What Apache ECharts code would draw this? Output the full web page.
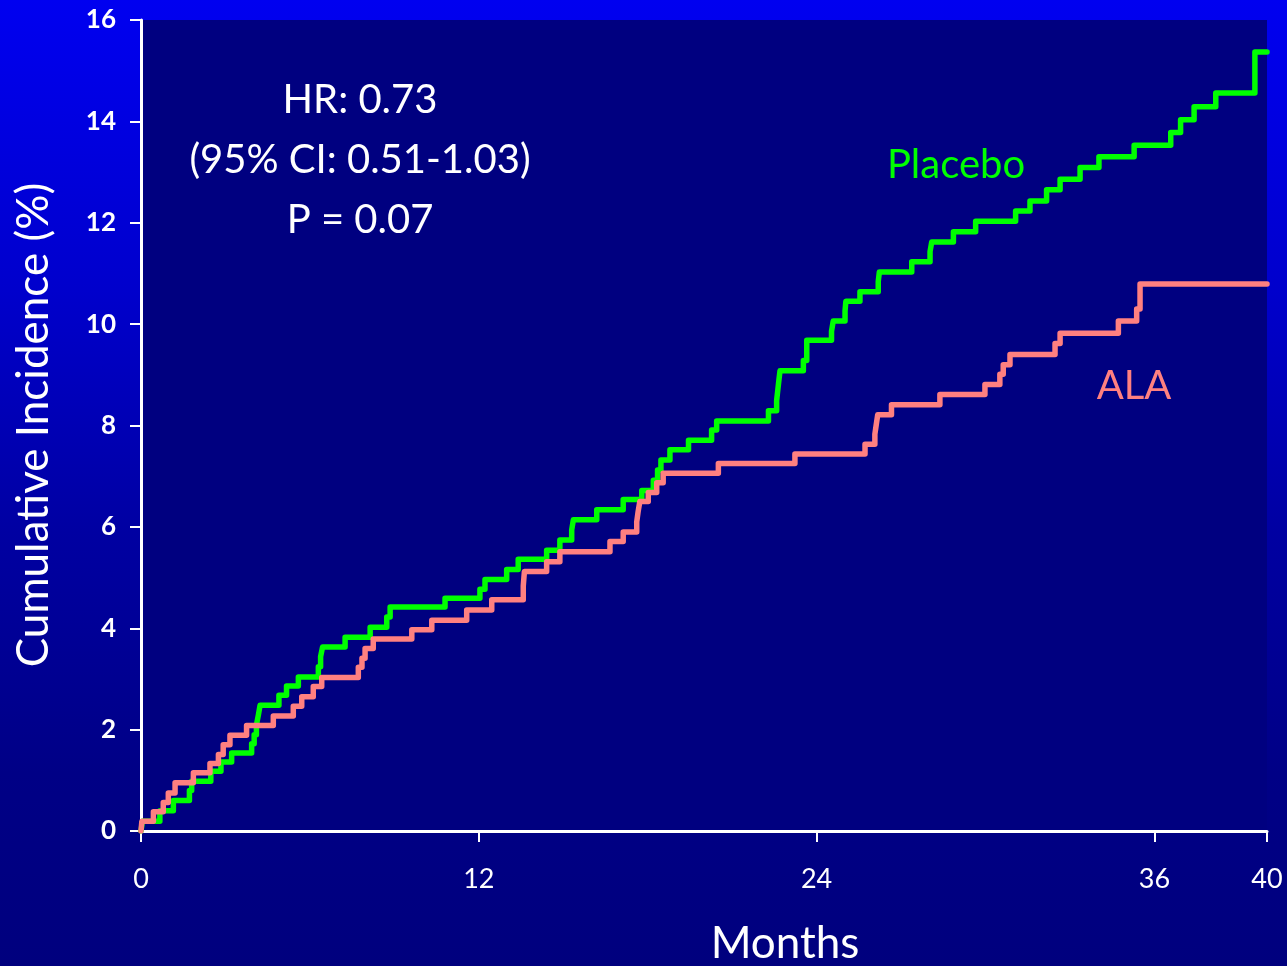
<!DOCTYPE html>
<html>
<head>
<meta charset="utf-8">
<style>
  html, body { margin: 0; padding: 0; width: 1287px; height: 966px; overflow: hidden; background: #000080; }
  #chart { width: 1287px; height: 966px; }
</style>
<script src="https://cdn.jsdelivr.net/npm/echarts@6/dist/echarts.min.js"></script>
</head>
<body>
<div id="chart"></div>
<script>
// Kaplan-Meier style cumulative incidence: event times (months) and the level reached after each event (%)
const placeboTimes = [0.05, 0.67, 1.15, 1.72, 1.80, 2.48, 2.84, 3.22, 3.93, 4.02, 4.10, 4.17, 4.23, 4.90, 5.17, 5.59,
  6.30, 6.38, 6.45, 7.25, 8.14, 8.73, 8.85, 10.80, 12.04, 12.22, 12.99, 13.40, 14.41, 14.88, 15.30, 15.36, 16.19,
  17.13, 17.79, 18.20, 18.35, 18.47, 18.79, 19.45, 20.27, 20.45, 22.29, 22.58, 22.62, 22.66, 22.70, 23.53, 23.65,
  24.53, 24.59, 25.01, 25.04, 25.54, 26.19, 26.23, 27.38, 28.03, 28.09, 28.86, 29.65, 31.07, 31.58, 32.17, 32.65,
  33.36, 34.03, 35.28, 36.58, 36.93, 37.41, 38.18, 39.57];
const placeboRisk = [0.19, 0.40, 0.60, 0.80, 0.98, 1.18, 1.36, 1.54, 1.72, 1.90, 2.09, 2.29, 2.48, 2.68, 2.86, 3.04,
  3.24, 3.44, 3.63, 3.82, 4.02, 4.22, 4.42, 4.59, 4.77, 4.96, 5.16, 5.36, 5.54, 5.74, 5.94, 6.14, 6.34,
  6.54, 6.72, 6.92, 7.12, 7.32, 7.52, 7.71, 7.91, 8.09, 8.29, 8.49, 8.69, 8.89, 9.08, 9.28, 9.68,
  9.86, 10.06, 10.26, 10.45, 10.64, 10.84, 11.03, 11.23, 11.43, 11.62, 11.82, 12.03, 12.23, 12.43, 12.65, 12.86,
  13.09, 13.30, 13.53, 13.78, 14.03, 14.29, 14.56, 15.37];

const alaTimes = [0.03, 0.44, 0.79, 0.97, 1.21, 1.86, 2.45, 2.75, 2.92, 3.16, 3.75, 4.70, 5.41, 5.71, 6.12, 6.42,
  7.72, 7.85, 7.96, 8.25, 9.62, 10.33, 11.57, 12.46, 13.58, 13.62, 14.41, 14.88, 16.66, 17.13, 17.61, 17.66, 17.72,
  18.02, 18.32, 18.55, 20.51, 23.23, 25.72, 26.07, 26.12, 26.17, 26.66, 28.38, 29.98, 30.51, 30.63, 30.87, 32.47,
  32.65, 34.72, 35.37, 35.49];
const alaRisk = [0.19, 0.38, 0.56, 0.75, 0.95, 1.15, 1.33, 1.51, 1.70, 1.89, 2.08, 2.27, 2.46, 2.65, 2.85, 3.03,
  3.23, 3.41, 3.60, 3.79, 3.97, 4.16, 4.36, 4.56, 4.84, 5.12, 5.31, 5.51, 5.71, 5.90, 6.10, 6.30, 6.50,
  6.68, 6.87, 7.06, 7.25, 7.44, 7.63, 7.83, 8.02, 8.21, 8.41, 8.61, 8.81, 9.01, 9.20, 9.40, 9.62,
  9.82, 10.06, 10.30, 10.79];

const followUpEnd = 40;
const xTickValues = [0, 12, 24, 36, 40];
const yMax = 16;
const yStep = 2;

const statLines = ['HR: 0.73', '(95% CI: 0.51-1.03)', 'P = 0.07'];
const xAxisTitle = 'Months';
const yAxisTitle = 'Cumulative Incidence (%)';

// Turn event lists into a staircase polyline (horizontal, then vertical jump at each event)
function stepPath(times, risks, end) {
  const pts = [[0, 0]];
  let prev = 0;
  for (let i = 0; i < times.length; i++) {
    pts.push([times[i], prev]);
    pts.push([times[i], risks[i]]);
    prev = risks[i];
  }
  pts.push([end, prev]);
  return pts;
}

const FONT = 'Lato, "Open Sans", sans-serif';
const chart = echarts.init(document.getElementById('chart'), null, { renderer: 'canvas' });

const option = {
  backgroundColor: {
    type: 'linear', x: 0, y: 0, x2: 0, y2: 1,
    colorStops: [
      { offset: 0, color: '#0000f0' },
      { offset: 0.3, color: '#0000cc' },
      { offset: 0.55, color: '#0000a2' },
      { offset: 0.8, color: '#000086' },
      { offset: 1, color: '#00007e' }
    ]
  },
  animation: false,
  grid: {
    left: 141, right: 20, top: 20, bottom: 135,
    show: true, backgroundColor: '#000080', borderWidth: 0
  },
  xAxis: {
    type: 'value', min: 0, max: followUpEnd,
    axisLine: { show: true, lineStyle: { color: '#ffffff', width: 3 } },
    axisTick: { show: true, customValues: xTickValues, length: 11, lineStyle: { color: '#ffffff', width: 2 } },
    axisLabel: { customValues: xTickValues, color: '#ffffff', fontFamily: FONT, fontSize: 27, margin: 35 },
    splitLine: { show: false }
  },
  yAxis: {
    type: 'value', min: 0, max: yMax, interval: yStep,
    axisLine: { show: true, onZero: false, lineStyle: { color: '#ffffff', width: 3 } },
    axisTick: { show: true, length: 11, lineStyle: { color: '#ffffff', width: 2 } },
    axisLabel: { color: '#ffffff', fontFamily: FONT, fontSize: 26, fontWeight: 'bold', margin: 25 },
    splitLine: { show: false }
  },
  series: [
    {
      name: 'Placebo', type: 'line', data: stepPath(placeboTimes, placeboRisk, followUpEnd),
      showSymbol: false, symbol: 'none',
      lineStyle: { color: '#00ff00', width: 5.5, cap: 'round', join: 'round' }
    },
    {
      name: 'ALA', type: 'line', data: stepPath(alaTimes, alaRisk, followUpEnd),
      showSymbol: false, symbol: 'none',
      lineStyle: { color: '#ff8080', width: 5.5, cap: 'round', join: 'round' }
    }
  ],
  graphic: [
    ...statLines.map((t, i) => ({
      type: 'text', x: 360, y: 100 + i * 60,
      style: { text: t, fill: '#ffffff', font: '40px ' + FONT, textAlign: 'center', textVerticalAlign: 'middle' }
    })),
    {
      type: 'text', x: 956, y: 165,
      style: { text: 'Placebo', fill: '#00ff00', font: '40px ' + FONT, textAlign: 'center', textVerticalAlign: 'middle' }
    },
    {
      type: 'text', x: 1134, y: 386,
      style: { text: 'ALA', fill: '#ff8080', font: '40px ' + FONT, textAlign: 'center', textVerticalAlign: 'middle' }
    },
    {
      type: 'text', x: 785, y: 944,
      style: { text: xAxisTitle, fill: '#ffffff', font: '44px ' + FONT, textAlign: 'center', textVerticalAlign: 'middle' }
    },
    {
      type: 'text', x: 34, y: 425, rotation: Math.PI / 2,
      style: { text: yAxisTitle, fill: '#ffffff', font: '44px ' + FONT, textAlign: 'center', textVerticalAlign: 'middle' }
    }
  ]
};

chart.setOption(option);
</script>
</body>
</html>
